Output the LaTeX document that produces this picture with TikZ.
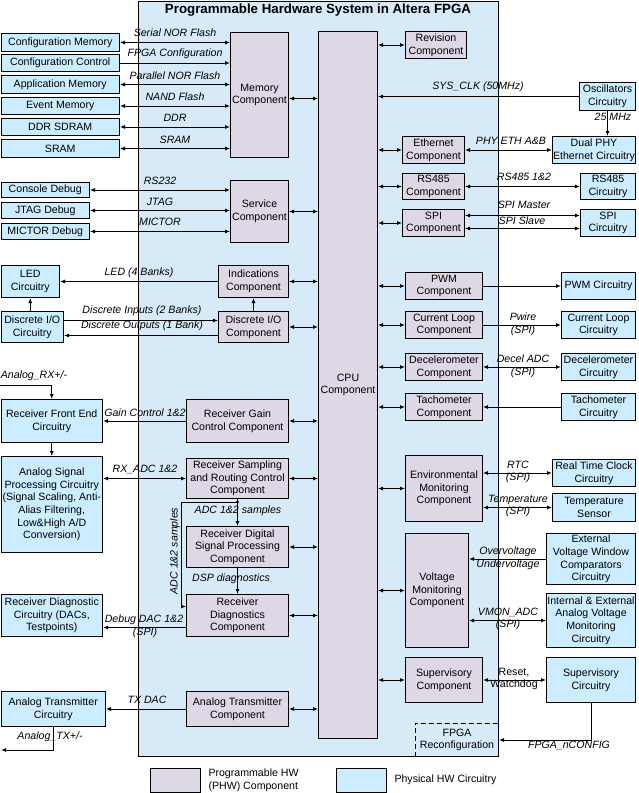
\documentclass[tikz,border=0pt]{standalone}
\usepackage{fontspec}
\setmainfont{Liberation Sans}
\usetikzlibrary{arrows.meta}
\definecolor{phwc}{RGB}{221,215,230}
\definecolor{physc}{RGB}{204,236,255}
\definecolor{fpgac}{RGB}{214,234,248}
% block from top-left (x1,y1) to bottom-right (x2,y2)
\newcommand\blk[7]{\node[#1, anchor=north west, minimum width={#4-#2}, minimum height={#5-#3}] (#6) at (#2,#3) {#7};}
\begin{document}
\begin{tikzpicture}[x=1pt,y=-1pt, line width=1pt,
  font=\fontsize{10.6}{12.6}\selectfont,
  >={Latex[length=5pt,width=4pt]},
  phw/.style={draw, fill=phwc, align=center, inner sep=0pt},
  phys/.style={draw, fill=physc, align=center, inner sep=0pt},
  lbl/.style={font=\fontsize{10.6}{12.6}\selectfont\itshape, inner sep=0pt, align=center},
  txt/.style={inner sep=0pt, align=center}]
\useasboundingbox (0,0) rectangle (638,793);

% FPGA container
\node[draw, fill=fpgac, anchor=north west, minimum width=360, minimum height=755, inner sep=0pt] (fpga) at (138,1) {};
\node[font=\fontsize{13.3}{16}\selectfont\bfseries, inner sep=0pt] (title) at (318,10) {Programmable Hardware System in Altera FPGA};

% CPU
\blk{phw}{318}{31}{377}{738}{cpu}{CPU\\Component}

% memories
\blk{phys}{0.5}{33}{119}{51}{cfgmem}{Configuration Memory}
\blk{phys}{0.5}{54}{119}{71}{cfgctl}{Configuration Control}
\blk{phys}{0.5}{75}{119}{93}{appmem}{Application Memory}
\blk{phys}{0.5}{97}{119}{114}{evtmem}{Event Memory}
\blk{phys}{0.5}{118}{119}{135}{ddr}{DDR SDRAM}
\blk{phys}{0.5}{139}{119}{157}{sram}{SRAM}
\blk{phw}{230}{32}{288}{157}{mem}{Memory\\Component}

% debug
\blk{phys}{0.5}{182}{89}{197}{console}{Console Debug}
\blk{phys}{0.5}{202}{89}{218}{jtag}{JTAG Debug}
\blk{phys}{0.5}{223}{89}{239}{mictor}{MICTOR Debug}
\blk{phw}{230}{180}{288}{242}{svc}{Service\\Component}

% indications / discrete I/O
\blk{phys}{0.5}{265}{59}{297}{led}{LED\\Circuitry}
\blk{phys}{0.5}{311}{63}{342}{dioc}{Discrete I/O\\Circuitry}
\blk{phw}{218}{265}{288}{297}{ind}{Indications\\Component}
\blk{phw}{218}{311}{288}{342}{dio}{Discrete I/O\\Component}

% receiver chain
\blk{phys}{0.5}{399}{102}{442}{rfe}{Receiver Front End\\Circuitry}
\blk{phw}{186}{399}{288}{442}{rgc}{Receiver Gain\\Control Component}
\blk{phys}{0.5}{456}{102}{552}{asp}{Analog Signal\\Processing Circuitry\\(Signal Scaling, Anti-\\Alias Filtering,\\Low\&High A/D\\Conversion)}
\blk{phw}{186}{458}{288}{498}{rsrc}{Receiver Sampling\\and Routing Control\\Component}
\blk{phw}{186}{526}{288}{567}{rdsp}{Receiver Digital\\Signal Processing\\Component}
\blk{phw}{186}{594}{288}{636}{rd}{Receiver\\Diagnostics\\Component}
\blk{phys}{0.5}{594}{102}{636}{rdc}{Receiver Diagnostic\\Circuitry (DACs,\\Testpoints)}

% transmitter
\blk{phys}{0.5}{691}{105}{726}{atc}{Analog Transmitter\\Circuitry}
\blk{phw}{186}{691}{288}{726}{atcomp}{Analog Transmitter\\Component}

% right-hand components
\blk{phw}{405}{31}{466}{58}{rev}{Revision\\Component}
\blk{phys}{579}{82}{635}{110}{osc}{Oscillators\\Circuitry}
\blk{phw}{402}{136}{464}{163}{eth}{Ethernet\\Component}
\blk{phys}{552}{136}{635}{163}{phy}{Dual PHY\\Ethernet Circuitry}
\blk{phw}{402}{173}{464}{199}{rs}{RS485\\Component}
\blk{phys}{580}{173}{635}{199}{rsc}{RS485\\Circuitry}
\blk{phw}{402}{209}{464}{236}{spi}{SPI\\Component}
\blk{phys}{580}{209}{635}{236}{spic}{SPI\\Circuitry}
\blk{phw}{405}{272}{482}{299}{pwm}{PWM\\Component}
\blk{phys}{561}{272}{635}{299}{pwmc}{PWM Circuitry}
\blk{phw}{405}{311}{482}{338}{cl}{Current Loop\\Component}
\blk{phys}{561}{311}{635}{338}{clc}{Current Loop\\Circuitry}
\blk{phw}{405}{353}{482}{380}{dec}{Decelerometer\\Component}
\blk{phys}{561}{353}{635}{380}{decc}{Decelerometer\\Circuitry}
\blk{phw}{405}{393}{482}{420}{tach}{Tachometer\\Component}
\blk{phys}{561}{393}{635}{420}{tachc}{Tachometer\\Circuitry}
\blk{phw}{405}{455}{482}{521}{env}{Environmental\\Monitoring\\Component}
\blk{phys}{552}{459}{635}{486}{rtc}{Real Time Clock\\Circuitry}
\blk{phys}{552}{493}{635}{521}{temp}{Temperature\\Sensor}
\blk{phw}{405}{533}{468}{647}{vm}{Voltage\\Monitoring\\Component}
\blk{phys}{546}{533}{635}{584}{evwc}{External\\Voltage Window\\Comparators\\Circuitry}
\blk{phys}{546}{593}{635}{647}{ieavm}{Internal \& External\\Analog Voltage\\Monitoring\\Circuitry}
\blk{phw}{405}{657}{482}{702}{sup}{Supervisory\\Component}
\blk{phys}{546}{657}{635}{702}{supc}{Supervisory\\Circuitry}

% reconfiguration area (dashed on its inner sides)
\blk{txt}{415}{723}{498}{756}{reconf}{FPGA\\Reconfiguration}
\draw[dashed, dash pattern=on 5pt off 3pt] (reconf.south west) |- (reconf.north east);

% CPU links
\foreach \n in {rev,eth,rs,spi,pwm,cl,dec,tach,env,vm,sup}
  \draw[<->] (cpu.east |- \n.west) -- (\n.west);
\foreach \n in {svc,ind,dio,rgc,rsrc,rdsp,rd,atcomp}
  \draw[<->] (\n.east) -- (\n.east -| cpu.west);
\draw[<->] ([yshift=-3.5pt]mem.east) -- ([yshift=-3.5pt]mem.east -| cpu.west);

% memory links
\draw[<->] (cfgmem.east) -- (cfgmem.east -| mem.west);
\draw[->] (cfgctl.east) -- (cfgctl.east -| mem.west);
\draw[<->] (appmem.east) -- (appmem.east -| mem.west);
\draw[<->] (evtmem.east) -- (evtmem.east -| mem.west);
\draw[<->] (ddr.east) -- (ddr.east -| mem.west);
\draw[<->] (sram.east) -- (sram.east -| mem.west);
\node[lbl] (lsnor) at (175,33) {Serial NOR Flash};
\node[lbl] (lfcfg) at (175,54) {FPGA Configuration};
\node[lbl] (lpnor) at (175,76) {Parallel NOR Flash};
\node[lbl] (lnand) at (175,97) {NAND Flash};
\node[lbl] (lddr) at (175,118) {DDR};
\node[lbl] (lsram) at (175,140) {SRAM};

% debug links
\draw[<->] (console.east) -- (console.east -| svc.west);
\draw[<->] (jtag.east) -- (jtag.east -| svc.west);
\draw[<->] (mictor.east) -- (mictor.east -| svc.west);
\node[lbl] (lrs232) at (160,181) {RS232};
\node[lbl] (ljtag) at (160,202) {JTAG};
\node[lbl] (lmictor) at (160,222) {MICTOR};

% indications / discrete I/O links
\draw[->] (ind.west) -- (ind.west -| led.east);
\draw[->] (dioc.north -| led.south) -- (led.south);
\draw[->] (dio.north) -- (ind.south);
\draw[->] ([yshift=6.5pt]dioc.east) -- ([yshift=6.5pt]dioc.east -| dio.west);
\draw[->] ([yshift=-8.5pt]dio.west) -- ([yshift=-8.5pt]dio.west -| dioc.east);
\node[lbl] (lled) at (139,273) {LED (4 Banks)};
\node[lbl] (ldin) at (142,311) {Discrete Inputs (2 Banks)};
\node[lbl] (ldout) at (142,326) {Discrete Outputs (1 Bank)};

% receiver links
\coordinate (rxin) at (0,385);
\draw[->] (rxin) -| (rfe.north);
\node[lbl] (lrx) at (34,376) {Analog\_RX+/-};
\draw[->] (rgc.west) -- (rgc.west -| rfe.east);
\node[lbl] (lgain) at (145,413) {Gain Control 1\&2};
\draw[->] (rfe.south) -- (asp.north);
\draw[<->] (asp.east |- rsrc.west) -- (rsrc.west);
\node[lbl] (lrxadc) at (145,469) {RX\_ADC 1\&2};
\coordinate (br) at ([yshift=-3pt]rsrc.south);
\draw[->] (rsrc.south) -- (rdsp.north);
\fill (br) circle (1.6pt);
\draw[->] (br) -- ++(-56,0) |- ([yshift=9pt]rd.west);
\node[lbl] (ladc) at (238,511) {ADC 1\&2 samples};
\node[lbl, rotate=90] (ladcv) at (175,551) {ADC 1\&2 samples};
\draw[->] (rdsp.south) -- (rd.north);
\node[lbl] (ldsp) at (231,579) {DSP diagnostics};
\draw[->] ([yshift=-12pt]rd.west) -- ([yshift=-12pt]rd.west -| rdc.east);
\node[lbl] (ldbg) at (144,620) {Debug DAC 1\&2};
\node[lbl] (ldbgspi) at (145,633) {(SPI)};

% transmitter links
\draw[->] (atcomp.west) -- (atcomp.west -| atc.east);
\node[lbl] (ltx) at (147,700) {TX DAC};
\coordinate (txout) at (1,750);
\draw[->] (atc.south) |- (txout);
\node[lbl] (ltxa) at (50,737) {Analog\_TX+/-};

% clock and network links
\draw[->] (osc.west) -- (osc.west -| cpu.east);
\node[lbl] (lclk) at (478,87) {SYS\_CLK (50MHz)};
\draw[->] (osc.south) -- (osc.south |- phy.north);
\node[lbl] (l25) at (613,117) {25 MHz};
\draw[<->] (eth.east) -- (eth.east -| phy.west);
\node[lbl] (leth) at (511,141) {PHY ETH A\&B};
\draw[<->] (rs.east) -- (rs.east -| rsc.west);
\node[lbl] (lrs485) at (524,177) {RS485 1\&2};
\draw[<->] ([yshift=7.5pt]spi.east) -- ([yshift=7.5pt]spi.east -| spic.west);
\draw[<->] ([yshift=-5.5pt]spi.east) -- ([yshift=-5.5pt]spi.east -| spic.west);
\node[lbl] (lspim) at (524,205) {SPI Master};
\node[lbl] (lspis) at (522,221) {SPI Slave};

% peripheral links
\draw[->] (pwm.east) -- (pwm.east -| pwmc.west);
\draw[->] (cl.east) -- (cl.east -| clc.west);
\node[lbl] (lpw) at (523,324) {Pwire\\(SPI)};
\draw[<->] (dec.east) -- (dec.east -| decc.west);
\node[lbl] (ldec) at (523,366) {Decel ADC\\(SPI)};
\draw[->] (tachc.west) -- (tachc.west -| tach.east);

% monitoring links
\draw[<->] (env.east |- rtc.west) -- (rtc.west);
\node[lbl] (lrtc) at (518,472) {RTC\\(SPI)};
\draw[<->] (env.east |- temp.west) -- (temp.west);
\node[lbl] (ltemp) at (518,506) {Temperature\\(SPI)};
\draw[->] (evwc.west) -- (evwc.west -| vm.east);
\node[lbl] (lvolt) at (508,558) {Overvoltage\\Undervoltage};
\draw[<->] (vm.east |- ieavm.west) -- (ieavm.west);
\node[lbl] (lvmon) at (508,619) {VMON\_ADC\\(SPI)};
\draw[<->] (sup.east) -- (sup.east -| supc.west);
\node[txt] (lrst) at (514,679) {Reset,\\Watchdog};
\draw[->] (supc.south) |- (reconf.east);
\node[lbl] (lncfg) at (569,745) {FPGA\_nCONFIG};

% legend
\blk{phw}{150}{768}{200}{792}{legphw}{}
\node[txt, align=left, anchor=west] (legphwt) at (208,780) {Programmable HW\\(PHW) Component};
\blk{phys}{336}{768}{386}{792}{legphys}{}
\node[txt, anchor=west] (legphyst) at (394,780) {Physical HW Circuitry};
\end{tikzpicture}
\end{document}
